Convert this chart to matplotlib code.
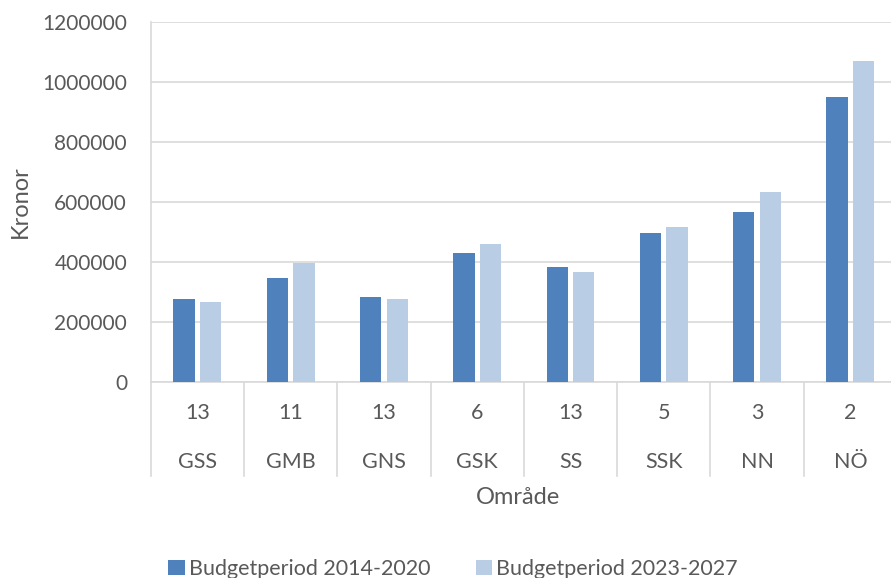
import matplotlib
matplotlib.use("Agg")
import matplotlib.pyplot as plt
from matplotlib.patches import Patch
import numpy as np

omraden = ["GSS", "GMB", "GNS", "GSK", "SS", "SSK", "NN", "NÖ"]
antal = ["13", "11", "13", "6", "13", "5", "3", "2"]
budget_2014_2020 = [277000, 347000, 285000, 430000, 383000, 497000, 567000, 948000]
budget_2023_2027 = [268000, 396000, 276000, 459000, 368000, 517000, 634000, 1068000]
serie_namn = ["Budgetperiod 2014-2020", "Budgetperiod 2023-2027"]

plt.rcParams['font.family'] = ['Lato', 'DejaVu Sans']
textfarg = '#595959'
gridfarg = '#D9D9D9'
mork = '#4F81BD'
ljus = '#B9CDE5'

W, H = 891, 578
fig = plt.figure(figsize=(W / 100, H / 100), dpi=100)

# plot area in pixels (right edge runs past the image, like the original)
left, right, top, bottom = 150.7, 897.0, 21.7, 382.3
ax = fig.add_axes([left / W, 1 - bottom / H, (right - left) / W, (bottom - top) / H])

x = np.arange(len(omraden))
bredd = 0.228
ax.bar(x - 0.143, budget_2014_2020, bredd, color=mork, zorder=3)
ax.bar(x + 0.143, budget_2023_2027, bredd, color=ljus, zorder=3)

ax.set_xlim(-0.5, len(omraden) - 0.5)
ax.set_ylim(0, 1200000)
ax.set_yticks(np.arange(0, 1200001, 200000))
ax.set_yticklabels([str(v) for v in range(0, 1200001, 200000)])
ax.tick_params(axis='y', length=0, pad=17, labelsize=15, labelcolor=textfarg)
ax.set_xticks([])
ax.grid(axis='y', color=gridfarg, linewidth=1.2, zorder=0)

for s in ['top', 'right']:
    ax.spines[s].set_visible(False)
for s in ['left', 'bottom']:
    ax.spines[s].set_color(gridfarg)
    ax.spines[s].set_linewidth(1.2)

# multi-level category axis
tr = ax.get_xaxis_transform()
djup = (476 - bottom) / (bottom - top)
for g in np.arange(-0.5, len(omraden), 1.0):
    ax.plot([g, g], [0, -djup], transform=tr, color=gridfarg, linewidth=1.2, clip_on=False)
for i in range(len(omraden)):
    ax.text(x[i], -(413 - bottom) / (bottom - top), antal[i], transform=tr,
            ha='center', va='center', fontsize=15.5, color=textfarg)
    ax.text(x[i], -(462 - bottom) / (bottom - top), omraden[i], transform=tr,
            ha='center', va='center', fontsize=15.5, color=textfarg)

fig.text((left + 746.3 / 2 - 6) / W, 1 - 497 / H, "Område", ha='center', va='center',
         fontsize=17, color=textfarg)
fig.text(20 / W, 1 - 202 / H, "Kronor", ha='center', va='center', rotation=90,
         fontsize=17, color=textfarg)

handtag = [Patch(facecolor=mork), Patch(facecolor=ljus)]
fig.legend(handtag, serie_namn, loc='center', bbox_to_anchor=(453 / W, 1 - 569 / H),
           ncol=2, frameon=False, fontsize=15.5, labelcolor=textfarg,
           handlelength=0.75, handleheight=0.75, handletextpad=0.2, columnspacing=2.1)

fig.savefig("out.png", dpi=100)
